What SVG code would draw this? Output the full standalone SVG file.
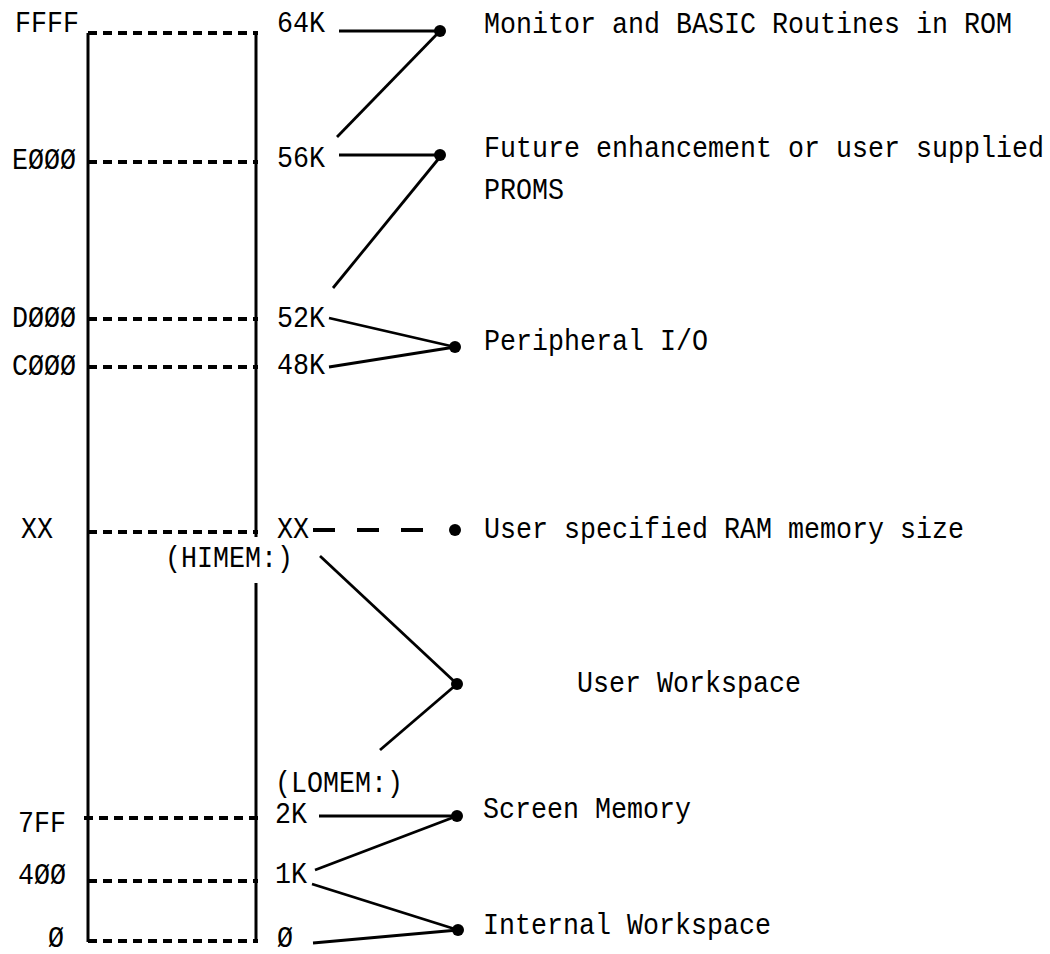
<svg xmlns="http://www.w3.org/2000/svg" width="1050" height="954" viewBox="0 0 1050 954">
<style>
text{font-family:"Liberation Mono","DejaVu Sans Mono",monospace;font-size:30px;fill:#000}
.frame{stroke:#000;stroke-width:3;fill:none}
.div{stroke:#000;stroke-width:4;stroke-dasharray:9 6;fill:none}
.con{stroke:#000;stroke-width:2.8;fill:none}
.dcon{stroke:#000;stroke-width:4;stroke-dasharray:22 22;fill:none}
.dot{fill:#000}
</style>
<rect width="1050" height="954" fill="#fff"/>
<g id="memory-map">
<line class="frame" x1="88" y1="33" x2="88" y2="942"/>
<line class="frame" x1="256" y1="33" x2="256" y2="537"/>
<line class="frame" x1="256" y1="583" x2="256" y2="942"/>
<line class="div" x1="88" y1="33" x2="258" y2="33"/>
<line class="div" x1="88" y1="162" x2="258" y2="162"/>
<line class="div" x1="88" y1="319" x2="258" y2="319"/>
<line class="div" x1="88" y1="367" x2="258" y2="367"/>
<line class="div" x1="88" y1="532" x2="258" y2="532"/>
<line class="div" x1="84" y1="818" x2="258" y2="818"/>
<line class="div" x1="88" y1="881" x2="258" y2="881"/>
<line class="div" x1="88" y1="941" x2="258" y2="941"/>
</g>
<g id="hex-labels">
<text x="15" y="32" textLength="64" lengthAdjust="spacingAndGlyphs">FFFF</text>
<text x="12" y="169" textLength="64" lengthAdjust="spacingAndGlyphs">EØØØ</text>
<text x="12" y="327" textLength="64" lengthAdjust="spacingAndGlyphs">DØØØ</text>
<text x="12" y="375" textLength="64" lengthAdjust="spacingAndGlyphs">CØØØ</text>
<text x="21" y="538" textLength="32" lengthAdjust="spacingAndGlyphs">XX</text>
<text x="18" y="832" textLength="48" lengthAdjust="spacingAndGlyphs">7FF</text>
<text x="18" y="884" textLength="48" lengthAdjust="spacingAndGlyphs">4ØØ</text>
<text x="48" y="947" textLength="16" lengthAdjust="spacingAndGlyphs">Ø</text>
</g>
<g id="k-labels">
<text x="277" y="32" textLength="48" lengthAdjust="spacingAndGlyphs">64K</text>
<text x="277" y="167" textLength="48" lengthAdjust="spacingAndGlyphs">56K</text>
<text x="277" y="327" textLength="48" lengthAdjust="spacingAndGlyphs">52K</text>
<text x="277" y="374" textLength="48" lengthAdjust="spacingAndGlyphs">48K</text>
<text x="277" y="538" textLength="32" lengthAdjust="spacingAndGlyphs">XX</text>
<text x="165" y="567" textLength="128" lengthAdjust="spacingAndGlyphs">(HIMEM:)</text>
<text x="275" y="792" textLength="128" lengthAdjust="spacingAndGlyphs">(LOMEM:)</text>
<text x="275" y="823" textLength="32" lengthAdjust="spacingAndGlyphs">2K</text>
<text x="275" y="883" textLength="32" lengthAdjust="spacingAndGlyphs">1K</text>
<text x="277" y="947" textLength="16" lengthAdjust="spacingAndGlyphs">Ø</text>
</g>
<g id="connectors">
<line class="con" x1="339" y1="31" x2="440" y2="31"/>
<line class="con" x1="440" y1="31" x2="337" y2="137"/>
<line class="con" x1="339" y1="155" x2="440" y2="155"/>
<line class="con" x1="440" y1="157" x2="333" y2="288"/>
<line class="con" x1="329" y1="318" x2="455" y2="347"/>
<line class="con" x1="329" y1="367" x2="455" y2="347"/>
<line class="dcon" x1="313" y1="530" x2="430" y2="530"/>
<line class="con" x1="320" y1="556" x2="457" y2="684"/>
<line class="con" x1="380" y1="750" x2="457" y2="684"/>
<line class="con" x1="319" y1="816" x2="457" y2="816"/>
<line class="con" x1="315" y1="870" x2="457" y2="816"/>
<line class="con" x1="312" y1="884" x2="458" y2="930"/>
<line class="con" x1="313" y1="943" x2="458" y2="930"/>
</g>
<g id="node-rom">
<circle class="dot" cx="440" cy="31" r="6"/>
<text x="484" y="33" textLength="528" lengthAdjust="spacingAndGlyphs">Monitor and BASIC Routines in ROM</text>
</g>
<g id="node-proms">
<circle class="dot" cx="440" cy="155" r="6"/>
<text x="484" y="157" textLength="560" lengthAdjust="spacingAndGlyphs">Future enhancement or user supplied</text>
<text x="484" y="199" textLength="80" lengthAdjust="spacingAndGlyphs">PROMS</text>
</g>
<g id="node-io">
<circle class="dot" cx="455" cy="347" r="6"/>
<text x="484" y="350" textLength="224" lengthAdjust="spacingAndGlyphs">Peripheral I/O</text>
</g>
<g id="node-ram">
<circle class="dot" cx="455" cy="530" r="6"/>
<text x="484" y="538" textLength="480" lengthAdjust="spacingAndGlyphs">User specified RAM memory size</text>
</g>
<g id="node-user">
<circle class="dot" cx="457" cy="684" r="6"/>
<text x="577" y="692" textLength="224" lengthAdjust="spacingAndGlyphs">User Workspace</text>
</g>
<g id="node-screen">
<circle class="dot" cx="457" cy="816" r="6"/>
<text x="483" y="818" textLength="208" lengthAdjust="spacingAndGlyphs">Screen Memory</text>
</g>
<g id="node-internal">
<circle class="dot" cx="458" cy="930" r="6"/>
<text x="483" y="934" textLength="288" lengthAdjust="spacingAndGlyphs">Internal Workspace</text>
</g>
</svg>
